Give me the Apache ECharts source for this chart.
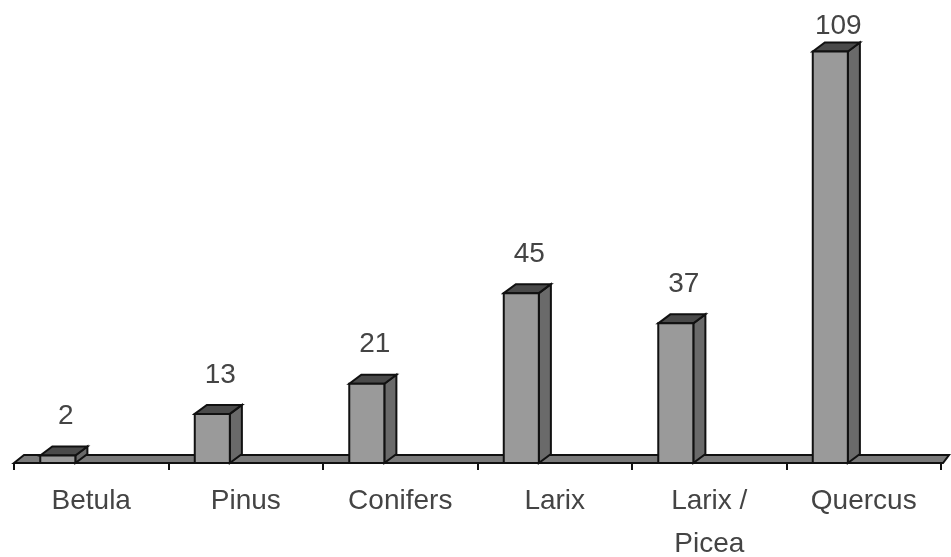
<!DOCTYPE html>
<html>
<head>
<meta charset="utf-8">
<script src="https://cdn.jsdelivr.net/npm/echarts@6/dist/echarts.min.js"></script>
<style>
html,body{margin:0;padding:0;background:#fff;}
#main{width:951px;height:557px;}
</style>
</head>
<body>
<div id="main"></div>
<script>
const categories = ['Betula', 'Pinus', 'Conifers', 'Larix', 'Larix /\nPicea', 'Quercus'];
const values = [2, 13, 21, 45, 37, 109];
const yMax = 120;

const FONT = '"Liberation Sans", Arial, sans-serif';
const chart = echarts.init(document.getElementById('main'));

function renderFloor(params, api) {
  const cs = params.coordSys;
  const y0 = api.coord([0, 0])[1];
  const x0 = cs.x, x1 = cs.x + cs.width + 2;
  return {
    type: 'polygon',
    shape: { points: [[x0, y0], [x0 + 10, y0 - 8], [x1 + 6, y0 - 8], [x1, y0]] },
    style: { fill: '#7a7a7a', stroke: '#111', lineWidth: 2 }
  };
}

function renderBar(params, api) {
  const i = api.value(0), v = api.value(1);
  const base = api.coord([i, 0]);
  const topP = api.coord([i, v]);
  const w = api.size([1, 0])[0];
  const left = base[0] - w * 0.33;
  const fw = w * 0.227;
  const right = left + fw;
  const d = w * 0.078;
  const dy = 9;
  const top = topP[1], bot = base[1];
  const labelY = Math.max(top - 39, 26);
  return {
    type: 'group',
    children: [
      { type: 'polygon', shape: { points: [[right, top], [right + d, top - dy], [right + d, bot - dy], [right, bot]] },
        style: { fill: '#6a6a6a', stroke: '#111', lineWidth: 2 } },
      { type: 'polygon', shape: { points: [[left, top], [left + d, top - dy], [right + d, top - dy], [right, top]] },
        style: { fill: '#4a4a4a', stroke: '#111', lineWidth: 2 } },
      { type: 'rect', shape: { x: left, y: top, width: fw, height: bot - top },
        style: { fill: '#9a9a9a', stroke: '#111', lineWidth: 2 } },
      { type: 'text', x: left + (fw + d) / 2 + 2, y: labelY,
        style: { text: String(v), fill: '#444', fontSize: 28, fontFamily: FONT, align: 'center', verticalAlign: 'middle' } }
    ]
  };
}

chart.setOption({
  animation: false,
  backgroundColor: '#fff',
  grid: { left: 14, right: 10, top: 10, bottom: 94, containLabel: false, outerBoundsMode: 'none' },
  xAxis: {
    type: 'category',
    data: categories,
    boundaryGap: true,
    axisLine: { show: false },
    axisTick: { show: true, length: 7, lineStyle: { color: '#111', width: 2 } },
    axisLabel: { fontSize: 28, lineHeight: 43, color: '#444', fontFamily: FONT, margin: 17, interval: 0 },
    splitLine: { show: false }
  },
  yAxis: { type: 'value', min: 0, max: yMax, show: false, splitLine: { show: false } },
  series: [
    { type: 'custom', renderItem: renderFloor, data: [[0, 0]], z: 1, silent: true },
    { type: 'custom', renderItem: renderBar, data: values.map((v, i) => [i, v]), z: 2,
      encode: { x: 0, y: 1 } }
  ]
});
</script>
</body>
</html>
